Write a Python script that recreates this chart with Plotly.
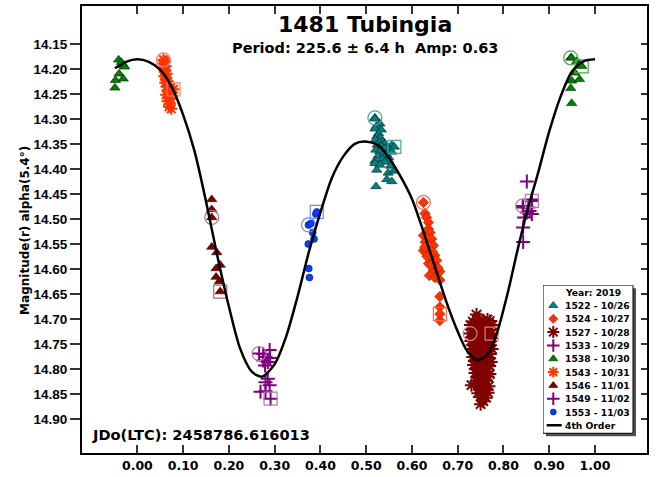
import plotly.graph_objects as go

FONT = "DejaVu Sans"
NARROW = "Liberation Sans"

# 4th-order Fourier fit, sampled along rotational phase
fit_phase = [-0.049, -0.025, 0.000, 0.025, 0.050, 0.075, 0.100, 0.125, 0.150, 0.175,
             0.200, 0.225, 0.250, 0.272, 0.300, 0.325, 0.350, 0.375, 0.400, 0.425,
             0.450, 0.475, 0.495, 0.525, 0.550, 0.575, 0.600, 0.625, 0.650, 0.675,
             0.700, 0.720, 0.742, 0.765, 0.785, 0.810, 0.830, 0.850, 0.875, 0.900,
             0.925, 0.950, 0.975, 1.000]
fit_mag = [14.199, 14.186, 14.181, 14.186, 14.202, 14.236, 14.292, 14.365, 14.465, 14.575,
           14.675, 14.760, 14.805, 14.815, 14.790, 14.735, 14.655, 14.565, 14.487, 14.418,
           14.375, 14.350, 14.345, 14.352, 14.378, 14.415, 14.460, 14.525, 14.595, 14.665,
           14.725, 14.763, 14.782, 14.771, 14.730, 14.645, 14.565, 14.490, 14.410, 14.325,
           14.255, 14.205, 14.185, 14.181]

# Session observations (first entry = first exposure, last entry = last exposure)
s1522_phase = [0.519, 0.519, 0.530, 0.522, 0.519, 0.533, 0.527, 0.523, 0.531, 0.520, 0.536,
               0.528, 0.541, 0.524, 0.556, 0.533, 0.546, 0.541, 0.521, 0.551, 0.530, 0.556,
               0.537, 0.545, 0.526, 0.549, 0.535, 0.548, 0.519, 0.541, 0.519, 0.530, 0.553,
               0.523, 0.548, 0.560, 0.545, 0.556, 0.5215, 0.5615]
s1522_mag = [14.298, 14.300, 14.310, 14.315, 14.320, 14.322, 14.329, 14.335, 14.338, 14.342, 14.345,
             14.348, 14.350, 14.352, 14.352, 14.355, 14.357, 14.359, 14.362, 14.362, 14.365, 14.366,
             14.369, 14.372, 14.374, 14.377, 14.380, 14.382, 14.384, 14.386, 14.389, 14.392, 14.394,
             14.402, 14.408, 14.404, 14.421, 14.425, 14.435, 14.356]

s1524_phase = [0.625, 0.6285, 0.632, 0.636, 0.636, 0.6395, 0.625, 0.643, 0.629, 0.647, 0.625,
               0.632, 0.650, 0.6395, 0.654, 0.636, 0.654, 0.647, 0.661, 0.638, 0.650, 0.661,
               0.628, 0.633, 0.642, 0.645, 0.657, 0.661, 0.661, 0.661, 0.661]
s1524_mag = [14.467, 14.489, 14.497, 14.507, 14.520, 14.527, 14.533, 14.540, 14.546, 14.553, 14.563,
             14.569, 14.573, 14.579, 14.583, 14.589, 14.596, 14.602, 14.605, 14.613, 14.617, 14.622,
             14.556, 14.575, 14.592, 14.566, 14.598, 14.655, 14.676, 14.703, 14.690]

s1527_phase = [0.727, 0.741, 0.748, 0.765, 0.733, 0.757, 0.770, 0.728, 0.740, 0.752, 0.763,
               0.776, 0.731, 0.745, 0.758, 0.768, 0.737, 0.750, 0.762, 0.773, 0.733, 0.744,
               0.755, 0.767, 0.729, 0.740, 0.751, 0.761, 0.772, 0.735, 0.747, 0.758, 0.769,
               0.731, 0.742, 0.753, 0.764, 0.775, 0.737, 0.749, 0.760, 0.771, 0.733, 0.744,
               0.756, 0.767, 0.739, 0.751, 0.762, 0.773, 0.735, 0.746, 0.758, 0.769, 0.741,
               0.753, 0.764, 0.738, 0.748, 0.759, 0.770, 0.743, 0.755, 0.766, 0.740, 0.750,
               0.761, 0.730, 0.745, 0.756, 0.768, 0.748, 0.760, 0.744, 0.755, 0.766, 0.752,
               0.762, 0.756, 0.750, 0.774]
s1527_mag = [14.729, 14.691, 14.700, 14.701, 14.705, 14.706, 14.704, 14.712, 14.713, 14.711, 14.714,
             14.712, 14.720, 14.721, 14.719, 14.722, 14.728, 14.727, 14.730, 14.738, 14.736, 14.737,
             14.735, 14.738, 14.744, 14.745, 14.743, 14.746, 14.744, 14.752, 14.753, 14.751, 14.754,
             14.760, 14.761, 14.759, 14.762, 14.760, 14.768, 14.769, 14.767, 14.770, 14.776, 14.777,
             14.775, 14.778, 14.784, 14.785, 14.783, 14.786, 14.792, 14.793, 14.791, 14.794, 14.800,
             14.801, 14.799, 14.808, 14.809, 14.807, 14.810, 14.816, 14.817, 14.815, 14.824, 14.825,
             14.823, 14.832, 14.833, 14.831, 14.834, 14.840, 14.841, 14.848, 14.849, 14.847, 14.856,
             14.857, 14.864, 14.870, 14.729]

s1533_phase = [0.842, 0.851, 0.862, 0.843, 0.854, 0.857, 0.851, 0.862, 0.845, 0.843, 0.843, 0.862]
s1533_mag = [14.474, 14.425, 14.461, 14.477, 14.477, 14.484, 14.487, 14.490, 14.497, 14.517, 14.546, 14.464]

s1538_phase = [0.947, 0.949, 0.960, 0.967, 0.956, 0.949, 0.966, 0.947, 0.949, 0.971]
s1538_mag = [14.178, 14.178, 14.185, 14.191, 14.208, 14.224, 14.221, 14.239, 14.269, 14.195]
# same session repeated one cycle earlier
s1538_wrap_phase = [-0.041, -0.035, -0.030, -0.028, -0.040, -0.048, -0.031, -0.049]
s1538_wrap_mag = [14.182, 14.187, 14.193, 14.196, 14.210, 14.223, 14.220, 14.238]

s1543_phase = [0.057, 0.060, 0.055, 0.062, 0.058, 0.060, 0.064, 0.059, 0.063, 0.066, 0.061,
               0.068, 0.064, 0.072, 0.066, 0.070, 0.063, 0.068, 0.073, 0.066, 0.071, 0.069,
               0.074, 0.079]
s1543_mag = [14.182, 14.185, 14.190, 14.195, 14.200, 14.205, 14.210, 14.215, 14.220, 14.225, 14.228,
             14.232, 14.236, 14.238, 14.243, 14.248, 14.252, 14.256, 14.260, 14.265, 14.270, 14.276,
             14.280, 14.241]

s1546_phase = [0.1625, 0.1625, 0.1625, 0.1625, 0.1735, 0.181, 0.172, 0.172, 0.179, 0.181]
s1546_mag = [14.497, 14.461, 14.481, 14.556, 14.567, 14.592, 14.599, 14.616, 14.625, 14.645]

s1549_phase = [0.266, 0.275, 0.289, 0.280, 0.275, 0.290, 0.285, 0.279, 0.285, 0.280, 0.289,
               0.269, 0.280, 0.291]
s1549_mag = [14.769, 14.770, 14.762, 14.776, 14.783, 14.778, 14.786, 14.793, 14.819, 14.826, 14.832,
             14.845, 14.844, 14.859]

s1553_phase = [0.374, 0.379, 0.383, 0.386, 0.3735, 0.3745, 0.376, 0.390, 0.392]
s1553_mag = [14.512, 14.509, 14.527, 14.540, 14.550, 14.599, 14.617, 14.490, 14.486]

x_ticks = [0.0, 0.1, 0.2, 0.3, 0.4, 0.5, 0.6, 0.7, 0.8, 0.9, 1.0]
y_ticks = [14.15, 14.20, 14.25, 14.30, 14.35, 14.40, 14.45, 14.50, 14.55,
           14.60, 14.65, 14.70, 14.75, 14.80, 14.85, 14.90]

sessions = [
    dict(name="1522 - 10/26", x=s1522_phase, y=s1522_mag, symbol="triangle-up",
         color="#008080", edge="#002020", size=9, ring="#4aa5a5"),
    dict(name="1524 - 10/27", x=s1524_phase, y=s1524_mag, symbol="diamond",
         color="#ff3300", edge="#a01800", size=8, ring="#ff6a4a"),
    dict(name="1527 - 10/28", x=s1527_phase, y=s1527_mag, symbol="asterisk-open",
         color="#800000", edge=None, size=11, ring="#c08a8a"),
    dict(name="1533 - 10/29", x=s1533_phase, y=s1533_mag, symbol="cross-thin-open",
         color="#800080", edge=None, size=10, ring="#b27ab2"),
    dict(name="1538 - 10/30", x=s1538_phase, y=s1538_mag, symbol="triangle-up",
         color="#008000", edge="#002000", size=9, ring="#4aa54a"),
    dict(name="1543 - 10/31", x=s1543_phase, y=s1543_mag, symbol="asterisk-open",
         color="#ff3300", edge=None, size=10, ring="#ff7a6a"),
    dict(name="1546 - 11/01", x=s1546_phase, y=s1546_mag, symbol="triangle-up",
         color="#800000", edge="#200000", size=9, ring="#b26a6a"),
    dict(name="1549 - 11/02", x=s1549_phase, y=s1549_mag, symbol="cross-thin-open",
         color="#800080", edge=None, size=10, ring="#b27ab2"),
    dict(name="1553 - 11/03", x=s1553_phase, y=s1553_mag, symbol="circle",
         color="#0040ff", edge="#001a80", size=7, ring="#6a8aff"),
]


def marker_style(s, size=None):
    size = size or s["size"]
    if s["edge"] is None:
        return dict(symbol=s["symbol"], size=size, color=s["color"],
                    line=dict(color=s["color"], width=2))
    return dict(symbol=s["symbol"], size=size, color=s["color"],
                line=dict(color=s["edge"], width=0.6))


fig = go.Figure()

for s in sessions:
    fig.add_trace(go.Scatter(x=s["x"], y=s["y"], mode="markers", marker=marker_style(s),
                             showlegend=False, hoverinfo="skip"))
    if s["name"].startswith("1538"):
        fig.add_trace(go.Scatter(x=s1538_wrap_phase, y=s1538_wrap_mag, mode="markers",
                                 marker=marker_style(s), showlegend=False, hoverinfo="skip"))
    # first exposure ringed, last exposure boxed
    fig.add_trace(go.Scatter(x=[s["x"][0]], y=[s["y"][0]], mode="markers",
                             marker=dict(symbol="circle-open", size=14, color=s["ring"],
                                         line=dict(color=s["ring"], width=1.2)),
                             showlegend=False, hoverinfo="skip"))
    fig.add_trace(go.Scatter(x=[s["x"][-1]], y=[s["y"][-1]], mode="markers",
                             marker=dict(symbol="square-open", size=13, color=s["ring"],
                                         line=dict(color=s["ring"], width=1.2)),
                             showlegend=False, hoverinfo="skip"))

fig.add_trace(go.Scatter(x=fit_phase, y=fit_mag, mode="lines",
                         line=dict(color="black", width=2.5, shape="spline", smoothing=0.8),
                         showlegend=False, hoverinfo="skip"))

# right-hand axis only carries inward ticks
fig.add_trace(go.Scatter(x=[], y=[], xaxis="x", yaxis="y2", showlegend=False))

# ---- legend panel drawn on its own small axes (units: pixels from panel top-left)
legend_rows = ["Year: 2019"] + [s["name"] for s in sessions] + ["4th Order"]
row_y = [7 + 13.5 * k for k in range(len(legend_rows))]
bold_small = dict(family=FONT, size=9.2, color="black", weight="bold")

fig.add_shape(type="rect", xref="x3", yref="y3", x0=3, y0=3, x1=93, y1=153,
              fillcolor="#505050", line=dict(width=0), layer="below")
fig.add_shape(type="rect", xref="x3", yref="y3", x0=0, y0=0, x1=90, y1=150,
              fillcolor="white", line=dict(color="black", width=1), layer="below")

for k, s in enumerate(sessions):
    fig.add_trace(go.Scatter(x=[10.3], y=[row_y[k + 1]], xaxis="x3", yaxis="y3",
                             mode="markers", marker=marker_style(s, size=s["size"] - 1),
                             showlegend=False, hoverinfo="skip", cliponaxis=False))
fig.add_trace(go.Scatter(x=[3.7, 18.7], y=[row_y[-1], row_y[-1]], xaxis="x3", yaxis="y3",
                         mode="lines", line=dict(color="black", width=2.5),
                         showlegend=False, hoverinfo="skip", cliponaxis=False))

annotations = []
for k, label in enumerate(legend_rows):
    annotations.append(dict(x=20 if k else 19.5, y=row_y[k], xref="x3", yref="y3", text=label,
                            showarrow=False, xanchor="left", yanchor="middle", font=bold_small))

annotations += [
    dict(x=0.5, y=0.958, xref="paper", yref="paper", text="1481 Tubingia", showarrow=False,
         xanchor="center", yanchor="middle",
         font=dict(family=FONT, size=22, color="black", weight="bold")),
    dict(x=0.5, y=0.906, xref="paper", yref="paper",
         text="Period: 225.6 \u00b1 6.4 h  Amp: 0.63", showarrow=False,
         xanchor="center", yanchor="middle",
         font=dict(family=FONT, size=14.5, color="black", weight="bold")),
    dict(x=0.015, y=0.042, xref="paper", yref="paper", text="JDo(LTC): 2458786.616013",
         showarrow=False, xanchor="left", yanchor="middle",
         font=dict(family=FONT, size=14.6, color="black", weight="bold")),
    dict(x=-0.101, y=0.499, xref="paper", yref="paper", text="Magnitude(r) alpha(5.4\u00b0)",
         showarrow=False, textangle=-90, xanchor="center", yanchor="middle",
         font=dict(family=FONT, size=12, color="black", weight="bold")),
]

x_tick_font = dict(family=FONT, size=12.5, color="black", weight="bold")
y_tick_font = dict(family=NARROW, size=13.5, color="black", weight="bold")
y_range = [14.9676, 14.0745]

fig.update_layout(
    width=656, height=477,
    margin=dict(l=82, r=9, t=4, b=20),
    paper_bgcolor="white", plot_bgcolor="white",
    showlegend=False,
    annotations=annotations,
    xaxis=dict(range=[-0.121, 1.1136], tickvals=x_ticks,
               ticktext=[f"{v:.2f}" for v in x_ticks],
               ticks="inside", ticklen=8, tickwidth=1.5, tickcolor="#333333",
               showline=True, linewidth=2, linecolor="black", mirror="ticks",
               showgrid=False, zeroline=False, tickfont=x_tick_font, fixedrange=True),
    yaxis=dict(range=y_range, tickvals=y_ticks,
               ticktext=[f"{v:.2f}" for v in y_ticks],
               ticks="outside", ticklen=10, tickwidth=1.5, tickcolor="#333333",
               showline=True, linewidth=2, linecolor="black", mirror=True,
               showgrid=False, zeroline=False, tickfont=y_tick_font, fixedrange=True),
    yaxis2=dict(range=y_range, tickvals=y_ticks, overlaying="y", side="right",
                ticks="inside", ticklen=6, tickwidth=1.5, tickcolor="#333333",
                showticklabels=False, showline=False, showgrid=False, zeroline=False,
                fixedrange=True),
    xaxis3=dict(domain=[0.81593, 0.98230], range=[0, 94], anchor="y3", visible=False,
                fixedrange=True),
    yaxis3=dict(domain=[0.03532, 0.37528], range=[154, 0], anchor="x3", visible=False,
                fixedrange=True),
)

fig.write_html("out.html")
